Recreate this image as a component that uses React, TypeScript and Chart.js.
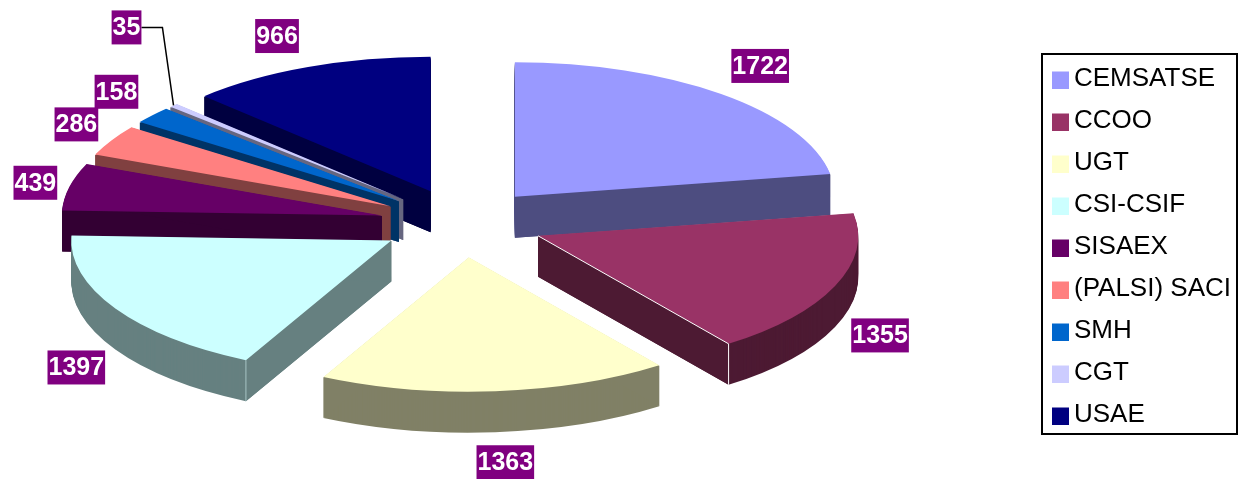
import React, { useEffect, useRef } from "react";
import { Chart, registerables } from "chart.js";

Chart.register(...registerables);

const CATEGORIES = ["CEMSATSE", "CCOO", "UGT", "CSI-CSIF", "SISAEX", "(PALSI) SACI", "SMH", "CGT", "USAE"];
const VALUES = [1722, 1355, 1363, 1397, 439, 286, 158, 35, 966];
const TOP_COLORS = ["#9999FF", "#993366", "#FFFFCC", "#CCFFFF", "#660066", "#FF8080", "#0066CC", "#CCCCFF", "#000080"];
const WALL_COLORS = ["#4D4D80", "#4D1A33", "#808066", "#668080", "#330033", "#804040", "#003366", "#666680", "#000040"];
// Painter's order of the slices
const DRAW_ORDER = [8, 7, 6, 5, 4, 3, 0, 1, 2];
// Nudges of the value labels from their radial anchor
const LABEL_NUDGES = [[39, -28], [45, 49.5], [10, 71], [-39, 59], [-34, -4], [-35, -16], [-36, -23.5], [-47, -78], [-31, -31]];

const PIE_X = 462;
const PIE_Y = 223;
const SQUASH = 0.42;
const RADIUS = 320;
const EXPLODE = 82;
const DEPTH = 41;
const LABEL_FONT = 'bold 25px "Liberation Sans", Arial, sans-serif';

function swatch(color: string) {
  const c = document.createElement("canvas");
  c.width = 17;
  c.height = 19;
  const g = c.getContext("2d")!;
  g.fillStyle = color;
  g.fillRect(0, 2, 17, 17);
  return c;
}

function apexPoint(arc: any) {
  const mid = (arc.startAngle + arc.endAngle) / 2;
  return {
    x: PIE_X + EXPLODE * Math.cos(mid),
    y: PIE_Y + SQUASH * EXPLODE * Math.sin(mid),
  };
}

function outerPoint(arc: any, angle: number) {
  const apex = apexPoint(arc);
  return {
    x: apex.x + RADIUS * Math.cos(angle),
    y: apex.y + SQUASH * RADIUS * Math.sin(angle),
  };
}

function drawLabels(chart: any) {
  const ctx = chart.ctx as CanvasRenderingContext2D;
  const arcs = chart.getDatasetMeta(0).data;
  ctx.save();
  ctx.font = LABEL_FONT;
  ctx.textAlign = "center";
  ctx.textBaseline = "middle";
  arcs.forEach((arc: any, i: number) => {
    const mid = (arc.startAngle + arc.endAngle) / 2;
    const ax = PIE_X + (EXPLODE + RADIUS) * Math.cos(mid);
    const ay = PIE_Y + (EXPLODE + RADIUS) * SQUASH * Math.sin(mid);
    const x = ax + LABEL_NUDGES[i][0];
    const y = ay + LABEL_NUDGES[i][1];
    const text = String(VALUES[i]);
    const w = ctx.measureText(text).width + 2;
    if (VALUES[i] === 35) {
      ctx.strokeStyle = "#000000";
      ctx.lineWidth = 1.5;
      ctx.beginPath();
      ctx.moveTo(x + w / 2, y);
      ctx.lineTo(x + w / 2 + 21, y);
      ctx.lineTo(ax, ay);
      ctx.stroke();
    }
    ctx.fillStyle = "#800080";
    ctx.fillRect(x - w / 2, y - 17, w, 34);
    ctx.fillStyle = "#FFFFFF";
    ctx.fillText(text, x, y + 1);
  });
  ctx.restore();
}

function drawRadialWalls(ctx: CanvasRenderingContext2D, arc: any, i: number) {
  const apex = apexPoint(arc);
  ctx.save();
  ctx.fillStyle = WALL_COLORS[i];
  [arc.startAngle, arc.endAngle].forEach((angle: number) => {
    const p = outerPoint(arc, angle);
    ctx.beginPath();
    ctx.moveTo(apex.x, apex.y + 0.5);
    ctx.lineTo(p.x, p.y + 0.5);
    ctx.lineTo(p.x, p.y + DEPTH);
    ctx.lineTo(apex.x, apex.y + DEPTH);
    ctx.closePath();
    ctx.fill();
  });
  ctx.restore();
}

function drawHighlights(ctx: CanvasRenderingContext2D, arc: any, i: number) {
  const apex = apexPoint(arc);
  ctx.save();
  ctx.lineWidth = 1;
  if (CATEGORIES[i] === "CCOO") {
    const p = outerPoint(arc, arc.endAngle);
    ctx.strokeStyle = "#FFFFFF";
    ctx.beginPath();
    ctx.moveTo(apex.x, apex.y);
    ctx.lineTo(p.x, p.y);
    ctx.lineTo(p.x, p.y + DEPTH);
    ctx.stroke();
  }
  if (CATEGORIES[i] === "CSI-CSIF") {
    const p = outerPoint(arc, arc.startAngle);
    ctx.strokeStyle = "#A8C4C4";
    ctx.beginPath();
    ctx.moveTo(p.x, p.y);
    ctx.lineTo(p.x, p.y + DEPTH);
    ctx.stroke();
  }
  ctx.restore();
}

const pie3d = {
  id: "pie3d",
  afterLayout(chart: any) {
    const legend = chart.legend;
    const width = legend.width;
    const height = legend.height;
    legend.left = 1043;
    legend.right = legend.left + width;
    legend.top = 50;
    legend.bottom = legend.top + height;
  },
  beforeDatasetDraw(chart: any) {
    const ctx = chart.ctx as CanvasRenderingContext2D;
    const arcs = chart.getDatasetMeta(0).data;
    DRAW_ORDER.forEach((i) => {
      const arc = arcs[i];
      const original = arc.options;
      const mid = (arc.startAngle + arc.endAngle) / 2;
      const place = (dy: number) => {
        ctx.save();
        ctx.translate(PIE_X, PIE_Y + dy);
        ctx.scale(1, SQUASH);
        ctx.translate(EXPLODE * Math.cos(mid) - arc.x, EXPLODE * Math.sin(mid) - arc.y);
      };
      arc.options = Object.assign({}, original, { backgroundColor: WALL_COLORS[i] });
      for (let d = DEPTH; d > 0; d--) {
        place(d);
        arc.draw(ctx);
        ctx.restore();
      }
      drawRadialWalls(ctx, arc, i);
      arc.options = original;
      place(0);
      arc.draw(ctx);
      ctx.restore();
      drawHighlights(ctx, arc, i);
    });
    return false;
  },
  afterDraw(chart: any) {
    const ctx = chart.ctx as CanvasRenderingContext2D;
    drawLabels(chart);
    ctx.save();
    ctx.strokeStyle = "#000000";
    ctx.lineWidth = 2;
    ctx.strokeRect(1042, 54, 195, 380);
    ctx.restore();
  },
};

export default function App() {
  const ref = useRef<HTMLCanvasElement>(null);
  useEffect(() => {
    document.body.style.margin = "0";
    const swatches = TOP_COLORS.map(swatch);
    const chart = new Chart(ref.current!, {
      type: "pie",
      data: {
        labels: CATEGORIES,
        datasets: [
          {
            data: VALUES,
            backgroundColor: TOP_COLORS,
            borderWidth: 0,
            clip: false,
          } as any,
        ],
      },
      options: {
        animation: false,
        responsive: false,
        radius: RADIUS,
        layout: { padding: 0 },
        plugins: {
          tooltip: { enabled: false },
          legend: {
            position: "right",
            align: "start",
            labels: {
              usePointStyle: true,
              pointStyleWidth: 2,
              boxHeight: 17,
              padding: 16,
              color: "#000000",
              font: { family: '"Liberation Sans", Arial, sans-serif', size: 26 },
              generateLabels(c: any) {
                const base = (Chart as any).overrides.doughnut.plugins.legend.labels.generateLabels(c);
                return base.map((item: any, i: number) => ({
                  ...item,
                  pointStyle: swatches[i],
                  lineWidth: 0,
                }));
              },
            },
          },
        },
      } as any,
      plugins: [pie3d as any],
    });
    return () => chart.destroy();
  }, []);
  return <canvas ref={ref} width={1238} height={479} style={{ display: "block", width: 1238, height: 479 }} />;
}
